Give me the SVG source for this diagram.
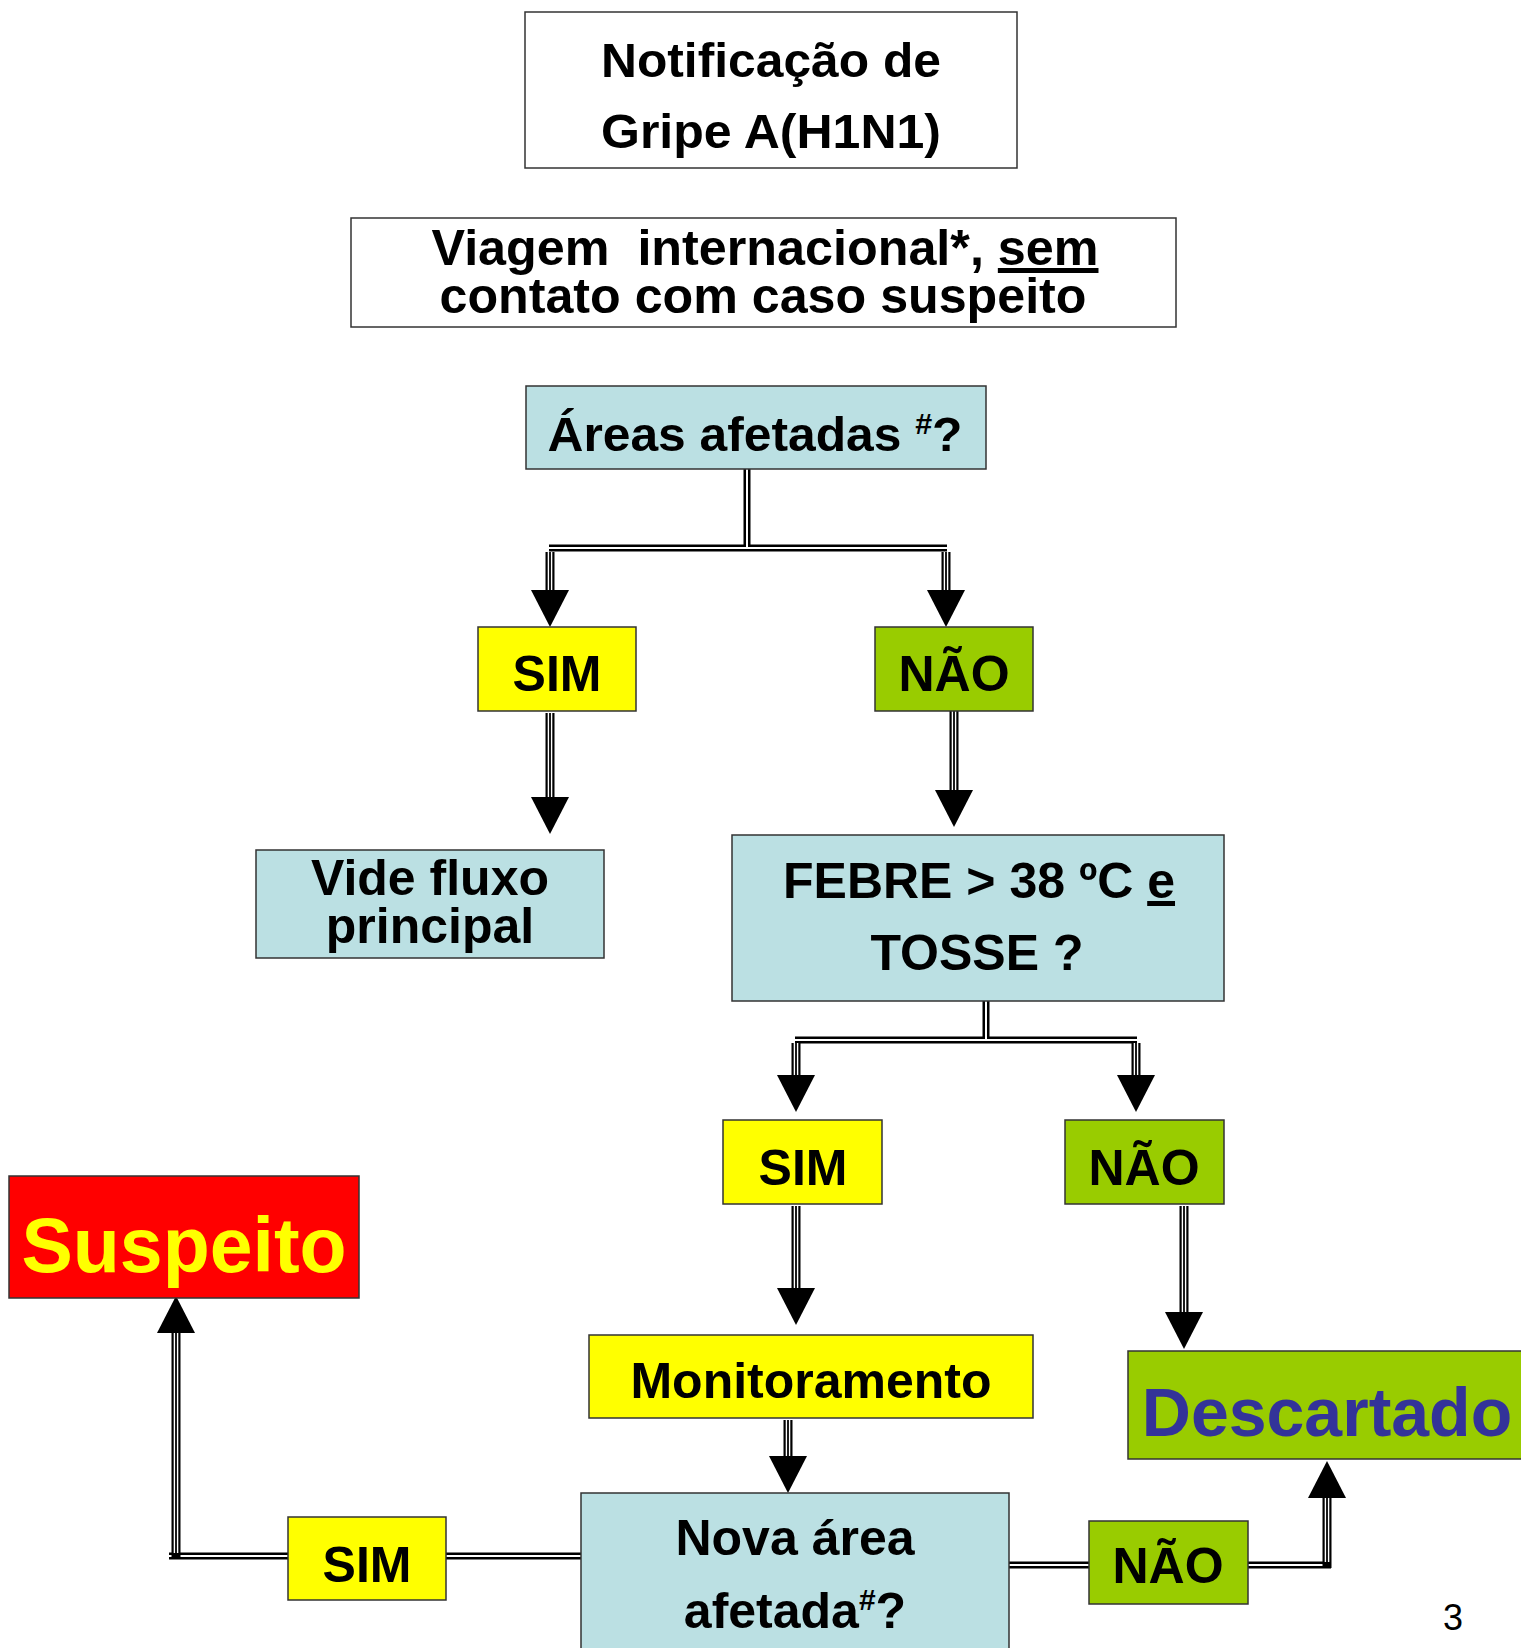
<svg xmlns="http://www.w3.org/2000/svg" width="1521" height="1648" viewBox="0 0 1521 1648">
<style>
.box{stroke:#333;stroke-width:1.5}
.wht{fill:#fff}
.blu{fill:#BBE0E3}
.yel{fill:#FFFF00}
.grn{fill:#99CC00}
.red{fill:#FF0000}
text{font-family:"Liberation Sans",Arial,Helvetica,sans-serif;font-weight:bold;text-anchor:middle;fill:#000}
.cb{stroke:#000;stroke-width:7;fill:none}
.cw{stroke:#fff;stroke-width:2;fill:none}
.tb{stroke:#000;stroke-width:9;fill:none}
.tw{stroke:#fff;stroke-width:1.4;fill:none}
.ah{fill:#000}
</style>
<defs>
<path id="ah" d="M-19,0 L19,0 L0,37 Z"/>
</defs>
<rect width="1521" height="1648" fill="#fff"/>

<g id="connectors">
  <!-- double lines -->
  <path class="cb" d="M747,469 V548 M549,548 H947 M986,1001 V1040 M795,1040 H1137 M1009,1565 H1089 M1248,1565 H1331 M581,1556 H446 M288,1556 H169"/>
  <path class="cw" d="M747,469 V548 M549,548 H947 M986,1001 V1040 M795,1040 H1137 M1009,1565 H1089 M1248,1565 H1331 M581,1556 H446 M288,1556 H169"/>
  <!-- triple shafts -->
  <path class="tb" d="M550,552 V591 M946,552 V591 M550,713 V798 M954,710 V791 M796,1043 V1076 M1136,1043 V1076 M796,1206 V1289 M1184,1206 V1313 M788,1420 V1457 M1327,1568 V1497 M176,1559 V1332"/>
  <path class="tw" d="M548.4,552 V591 M551.6,552 V591 M944.4,552 V591 M947.6,552 V591 M548.4,713 V798 M551.6,713 V798 M952.4,710 V791 M955.6,710 V791 M794.4,1043 V1076 M797.6,1043 V1076 M1134.4,1043 V1076 M1137.6,1043 V1076 M794.4,1206 V1289 M797.6,1206 V1289 M1182.4,1206 V1313 M1185.6,1206 V1313 M786.4,1420 V1457 M789.6,1420 V1457 M1325.4,1562 V1497 M1328.6,1562 V1497 M174.4,1553 V1332 M177.6,1553 V1332"/>
  <!-- arrowheads -->
  <use href="#ah" class="ah" transform="translate(550,590)"/>
  <use href="#ah" class="ah" transform="translate(946,590)"/>
  <use href="#ah" class="ah" transform="translate(550,797)"/>
  <use href="#ah" class="ah" transform="translate(954,790)"/>
  <use href="#ah" class="ah" transform="translate(796,1075)"/>
  <use href="#ah" class="ah" transform="translate(1136,1075)"/>
  <use href="#ah" class="ah" transform="translate(796,1288)"/>
  <use href="#ah" class="ah" transform="translate(1184,1312)"/>
  <use href="#ah" class="ah" transform="translate(788,1456)"/>
  <use href="#ah" class="ah" transform="translate(1327,1498) rotate(180)"/>
  <use href="#ah" class="ah" transform="translate(176,1333) rotate(180)"/>
</g>

<g id="n-notificacao">
  <rect class="box wht" x="525" y="12" width="492" height="156"/>
  <text x="771" y="77" font-size="48" textLength="340" lengthAdjust="spacingAndGlyphs">Notificação de</text>
  <text x="771" y="148" font-size="48" textLength="340" lengthAdjust="spacingAndGlyphs">Gripe A(H1N1)</text>
</g>

<g id="n-viagem">
  <rect class="box wht" x="351" y="218" width="825" height="109"/>
  <text x="765" y="265" font-size="50" textLength="667" lengthAdjust="spacingAndGlyphs" xml:space="preserve">Viagem  internacional*, <tspan text-decoration="underline">sem</tspan></text>
  <text x="763" y="313" font-size="50" textLength="647" lengthAdjust="spacingAndGlyphs">contato com caso suspeito</text>
</g>

<g id="n-areas">
  <rect class="box blu" x="526" y="386" width="460" height="83"/>
  <text x="755" y="451" font-size="49" textLength="415" lengthAdjust="spacingAndGlyphs">Áreas afetadas <tspan font-size="30" dy="-17">#</tspan><tspan dy="17">?</tspan></text>
</g>

<g id="n-sim1">
  <rect class="box yel" x="478" y="627" width="158" height="84"/>
  <text x="557" y="691" font-size="50">SIM</text>
</g>

<g id="n-nao1">
  <rect class="box grn" x="875" y="627" width="158" height="84"/>
  <text x="954" y="691" font-size="50">NÃO</text>
</g>

<g id="n-vide">
  <rect class="box blu" x="256" y="850" width="348" height="108"/>
  <text x="430" y="895" font-size="50">Vide fluxo</text>
  <text x="430" y="943" font-size="50">principal</text>
</g>

<g id="n-febre">
  <rect class="box blu" x="732" y="835" width="492" height="166"/>
  <text x="979" y="898" font-size="50">FEBRE &gt; 38 ºC <tspan text-decoration="underline">e</tspan></text>
  <text x="977" y="970" font-size="50">TOSSE ?</text>
</g>

<g id="n-sim2">
  <rect class="box yel" x="723" y="1120" width="159" height="84"/>
  <text x="803" y="1185" font-size="50">SIM</text>
</g>

<g id="n-nao2">
  <rect class="box grn" x="1065" y="1120" width="159" height="84"/>
  <text x="1144" y="1185" font-size="50">NÃO</text>
</g>

<g id="n-suspeito">
  <rect class="box red" x="9" y="1176" width="350" height="122"/>
  <text x="184" y="1272" font-size="77" style="fill:#FFFF00">Suspeito</text>
</g>

<g id="n-monitoramento">
  <rect class="box yel" x="589" y="1335" width="444" height="83"/>
  <text x="811" y="1398" font-size="50">Monitoramento</text>
</g>

<g id="n-descartado">
  <rect class="box grn" x="1128" y="1351" width="400" height="108"/>
  <text x="1327" y="1436" font-size="68" style="fill:#333399">Descartado</text>
</g>

<g id="n-nova">
  <rect class="box blu" x="581" y="1493" width="428" height="170"/>
  <text x="795" y="1555" font-size="50">Nova área</text>
  <text x="795" y="1628" font-size="50">afetada<tspan font-size="30" dy="-18">#</tspan><tspan dy="18">?</tspan></text>
</g>

<g id="n-sim3">
  <rect class="box yel" x="288" y="1517" width="158" height="83"/>
  <text x="367" y="1582" font-size="50">SIM</text>
</g>

<g id="n-nao3">
  <rect class="box grn" x="1089" y="1521" width="159" height="83"/>
  <text x="1168" y="1583" font-size="50">NÃO</text>
</g>

<text x="1453" y="1630" font-size="36" style="font-weight:normal">3</text>
</svg>
